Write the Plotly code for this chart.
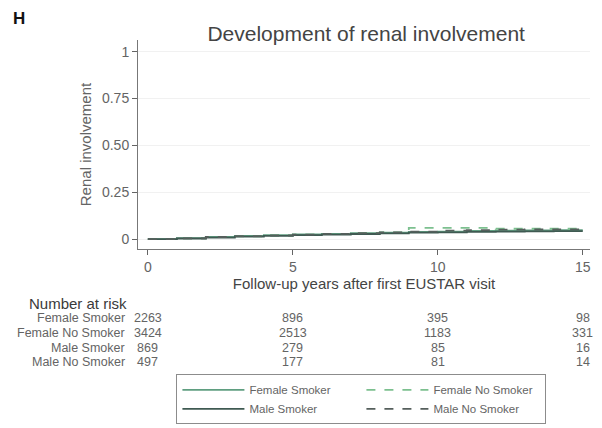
import plotly.graph_objects as go

# follow-up years and cumulative incidence
years = [0, 1, 2, 3, 4, 5, 6, 7, 8, 9, 10, 11, 12, 13, 14, 15]
female_smoker = [0, 0.005, 0.012, 0.017, 0.021, 0.025, 0.028, 0.031, 0.034, 0.038, 0.040, 0.043, 0.045, 0.046, 0.047, 0.047]
female_no_smoker = [0, 0.004, 0.010, 0.015, 0.019, 0.023, 0.027, 0.031, 0.035, 0.060, 0.060, 0.060, 0.055, 0.055, 0.055, 0.055]
male_smoker = [0, 0.003, 0.008, 0.013, 0.017, 0.021, 0.024, 0.027, 0.030, 0.034, 0.036, 0.038, 0.040, 0.041, 0.042, 0.042]
male_no_smoker = [0, 0.004, 0.011, 0.016, 0.020, 0.024, 0.028, 0.032, 0.036, 0.040, 0.045, 0.048, 0.050, 0.051, 0.052, 0.052]

# number at risk table
risk_times = [0, 5, 10, 15]
risk_groups = ["Female Smoker", "Female No Smoker", "Male Smoker", "Male No Smoker"]
risk_female_smoker = [2263, 896, 395, 98]
risk_female_no_smoker = [3424, 2513, 1183, 331]
risk_male_smoker = [869, 279, 85, 16]
risk_male_no_smoker = [497, 177, 81, 14]
risk_rows = [risk_female_smoker, risk_female_no_smoker, risk_male_smoker, risk_male_no_smoker]

FONT = "Liberation Sans, Arial, sans-serif"
GREY = "#646464"

fig = go.Figure()
series = [
    ("Female Smoker", female_smoker, "#5f9e80", "solid"),
    ("Female No Smoker", female_no_smoker, "#7cc08f", "dash"),
    ("Male Smoker", male_smoker, "#3f5a52", "solid"),
    ("Male No Smoker", male_no_smoker, "#555f5c", "dash"),
]
for name, vals, col, dash in series:
    fig.add_trace(go.Scatter(
        x=years, y=vals, name=name, mode="lines",
        line=dict(color=col, width=1.8, dash=dash, shape="hv"),
    ))

# page body adds 8px around the plot, so figure is 594x420
fig.update_layout(
    width=594, height=420,
    margin=dict(l=130, r=12, t=32, b=179, autoexpand=False),
    paper_bgcolor="white", plot_bgcolor="white",
    font=dict(family=FONT, size=12, color=GREY),
    title=dict(text="Development of renal involvement",
               x=0.603, xanchor="center", y=0.94, yanchor="middle",
               font=dict(size=21, color="#444444")),
    showlegend=True,
    legend=dict(
        orientation="h", x=0.085, y=-0.60, xanchor="left", yanchor="top",
        entrywidth=107, entrywidthmode="pixels",
        bordercolor="#8c8c8c", borderwidth=1,
        font=dict(size=11.5, color=GREY), itemwidth=62,
    ),
)
fig.update_xaxes(
    range=[-0.34, 15.25], tickvals=[0, 5, 10, 15], ticks="outside", ticklen=5,
    tickcolor=GREY, showline=True, linecolor="#777777", linewidth=1, showgrid=False,
    zeroline=False, tickfont=dict(size=14, color=GREY), automargin=False,
    title=dict(text="Follow-up years after first EUSTAR visit", standoff=0,
               font=dict(size=15, color="#444444")),
)
fig.update_yaxes(
    range=[-0.053, 1.062], tickvals=[0, 0.25, 0.5, 0.75, 1],
    ticktext=["0", "0.25", "0.50", "0.75", "1"], ticks="outside", ticklen=5,
    tickcolor=GREY, showline=True, linecolor="#777777", linewidth=1,
    showgrid=True, gridcolor="#f1f1f1", zeroline=False, automargin=False,
    tickfont=dict(size=14, color=GREY),
    title=dict(text="Renal involvement", standoff=6, font=dict(size=15, color=GREY)),
)

fig.add_annotation(text="<b>H</b>", xref="paper", yref="paper", x=-0.28, y=1.105,
                   xanchor="left", yanchor="middle", showarrow=False,
                   font=dict(size=17, color="#111111"))
fig.add_annotation(text="Number at risk", xref="paper", yref="paper", x=-0.245, y=-0.259,
                   xanchor="left", yanchor="middle", showarrow=False,
                   font=dict(size=15, color="#3a3a3a"))
row_y = [-0.328, -0.400, -0.472, -0.543]
for label, counts, yy in zip(risk_groups, risk_rows, row_y):
    fig.add_annotation(text=label, xref="paper", yref="paper", x=-0.025, y=yy,
                       xanchor="right", yanchor="middle", showarrow=False,
                       font=dict(size=12.5, color=GREY))
    for t, c in zip(risk_times, counts):
        fig.add_annotation(text=str(c), xref="x", yref="paper", x=t, y=yy,
                           xanchor="center", yanchor="middle", showarrow=False,
                           font=dict(size=12.5, color=GREY))

fig.write_html("out.html")
